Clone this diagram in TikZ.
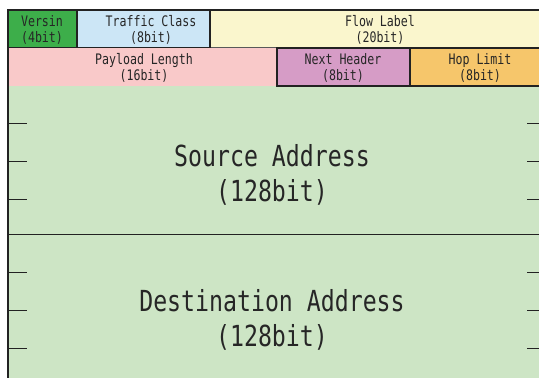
\documentclass[tikz,border=0pt]{standalone}
\usepackage{fontspec}
\newfontfamily\hdrfont[FakeStretch=0.8]{DejaVu Sans Mono}
\definecolor{cver}{HTML}{3DAE4A}
\definecolor{ctc}{HTML}{CCE6F6}
\definecolor{cfl}{HTML}{FAF6CD}
\definecolor{cpl}{HTML}{F9C9C9}
\definecolor{cnh}{HTML}{D69CC6}
\definecolor{chl}{HTML}{F6C66B}
\definecolor{caddr}{HTML}{CDE5C5}
\definecolor{cline}{HTML}{222222}
\tikzset{
  fieldbox/.style={draw=cline, line width=1.2pt},
  smalltxt/.style={font=\hdrfont\fontsize{14.5}{16}\selectfont, align=center, inner sep=0pt, text=black!85},
  bigtxt/.style={font=\hdrfont\fontsize{29}{35}\selectfont, align=center, inner sep=0pt, text=black!85},
  tick/.style={draw=cline, line width=1pt},
}
\begin{document}
\begin{tikzpicture}[x=1pt,y=-1pt]
\useasboundingbox (0,0) rectangle (539,378);
\clip (0,0) rectangle (539,378);
\fill[white] (0,0) rectangle (539,378);
% address area
\fill[caddr] (8,86) rectangle (560,390);
% row 1
\draw[fieldbox, draw=gray!70!black, fill=cfl] (210,10) rectangle (560,48);
\draw[fieldbox, fill=ctc] (77,10) rectangle (210,48);
\draw[fieldbox, fill=cver] (8,10) rectangle (77,48);
% row 2
\draw[fieldbox, draw=none, fill=cpl] (8,48) rectangle (277,86);
\draw[fieldbox, fill=chl] (410,48) rectangle (560,86);
\draw[fieldbox, fill=cnh] (277,48) rectangle (410,86);
% frame
\draw[line width=1.5pt, cline] (8,390) -- (8,10) -- (560,10);
% divider
\draw[line width=1.2pt, cline] (8,234.5) -- (560,234.5);
% ticks
\foreach \yy in {123,161,199,272,310,348} {
  \draw[tick] (9,\yy) -- (27,\yy);
  \draw[tick] (527,\yy) -- (545,\yy);
}
% texts
\node[smalltxt] (ver) at (42,29.5) {Versin\\(4bit)};
\node[smalltxt] (tc) at (151,29.5) {Traffic Class\\(8bit)};
\node[smalltxt] (fl) at (380,29.5) {Flow Label\\(20bit)};
\node[smalltxt] (pl) at (144,67.5) {Payload Length\\(16bit)};
\node[smalltxt] (nh) at (343,67.5) {Next Header\\(8bit)};
\node[smalltxt] (hl) at (480,67.5) {Hop Limit\\(8bit)};
\node[bigtxt] (src) at (272,175) {Source Address\\(128bit)};
\node[bigtxt] (dst) at (272,320) {Destination Address\\(128bit)};
\end{tikzpicture}
\end{document}
